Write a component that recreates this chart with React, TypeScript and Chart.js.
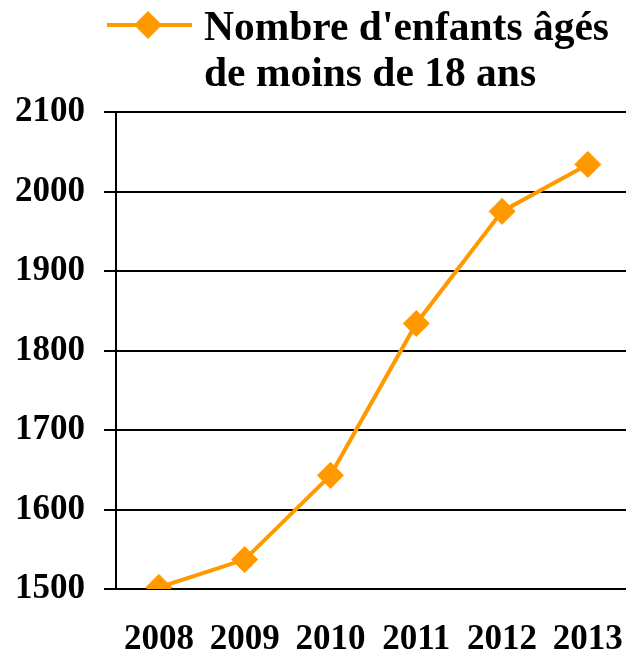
import React, { useEffect, useRef } from "react";
import { Chart, registerables } from "chart.js";

Chart.register(...registerables);

const years = ["2008", "2009", "2010", "2011", "2012", "2013"];
const children = [1502, 1537, 1643, 1834, 1975, 2034];
const seriesLabel = ["Nombre d'enfants âgés", "de moins de 18 ans"];
const yMin = 1500;
const yMax = 2100;
const yStep = 100;

const ORANGE = "#FF9900";
const FONT = "'Liberation Serif', 'Times New Roman', serif";

const legendPlugin = {
  id: "customLegend",
  afterDraw(chart: any) {
    const ctx = chart.ctx;
    const ds = chart.data.datasets[0];
    const lines: string[] = ds.label;
    ctx.save();
    ctx.strokeStyle = ORANGE;
    ctx.lineWidth = 4;
    ctx.beginPath();
    ctx.moveTo(107, 25);
    ctx.lineTo(192, 25);
    ctx.stroke();
    const cx = 148, cy = 25, r = 14;
    ctx.fillStyle = ORANGE;
    ctx.beginPath();
    ctx.moveTo(cx - r, cy);
    ctx.lineTo(cx, cy - r);
    ctx.lineTo(cx + r, cy);
    ctx.lineTo(cx, cy + r);
    ctx.closePath();
    ctx.fill();
    ctx.fillStyle = "#000";
    ctx.font = `bold 41.5px ${FONT}`;
    ctx.textAlign = "left";
    ctx.textBaseline = "alphabetic";
    lines.forEach((t, i) => {
      ctx.fillText(t, 204, 40 + i * 46);
    });
    ctx.restore();
  },
};

export default function App() {
  const ref = useRef<HTMLCanvasElement | null>(null);
  useEffect(() => {
    if (!ref.current) return;
    const chart = new Chart(ref.current, {
      type: "line",
      data: {
        labels: years,
        datasets: [
          {
            label: seriesLabel as any,
            data: children,
            borderColor: ORANGE,
            backgroundColor: ORANGE,
            borderWidth: 4,
            pointStyle: "rectRot",
            pointRadius: 13,
            pointBorderWidth: 1,
            pointBackgroundColor: ORANGE,
            pointBorderColor: ORANGE,
            tension: 0,
          },
        ],
      },
      options: {
        animation: false,
        responsive: true,
        maintainAspectRatio: false,
        layout: { padding: { top: 112, left: 14, right: 0, bottom: 0 } },
        plugins: {
          legend: { display: false },
          tooltip: { enabled: false },
        },
        scales: {
          x: {
            offset: true,
            grid: { display: false, drawTicks: false },
            border: { display: false },
            ticks: {
              color: "#000",
              padding: 30,
              font: { family: FONT, size: 35, weight: "bold" },
              maxRotation: 0,
            },
            afterFit(scale: any) {
              scale.height = 64;
            },
          },
          y: {
            min: yMin,
            max: yMax,
            ticks: {
              stepSize: yStep,
              color: "#000",
              padding: 19,
              font: { family: FONT, size: 35, weight: "bold" },
              callback: (v: any) => String(v),
            },
            grid: {
              color: "#000",
              lineWidth: 2,
              drawTicks: true,
              tickLength: 12,
            },
            border: { display: true, color: "#000", width: 2 },
            afterFit(scale: any) {
              scale.width = 102;
            },
          },
        },
      },
      plugins: [legendPlugin],
    });
    return () => chart.destroy();
  }, []);
  return (
    <div
      style={{
        position: "fixed",
        left: 0,
        top: 0,
        width: 626,
        height: 653,
        overflow: "hidden",
        background: "#fff",
      }}
    >
      <div style={{ position: "relative", width: 654, height: 653 }}>
        <canvas ref={ref} />
      </div>
    </div>
  );
}
